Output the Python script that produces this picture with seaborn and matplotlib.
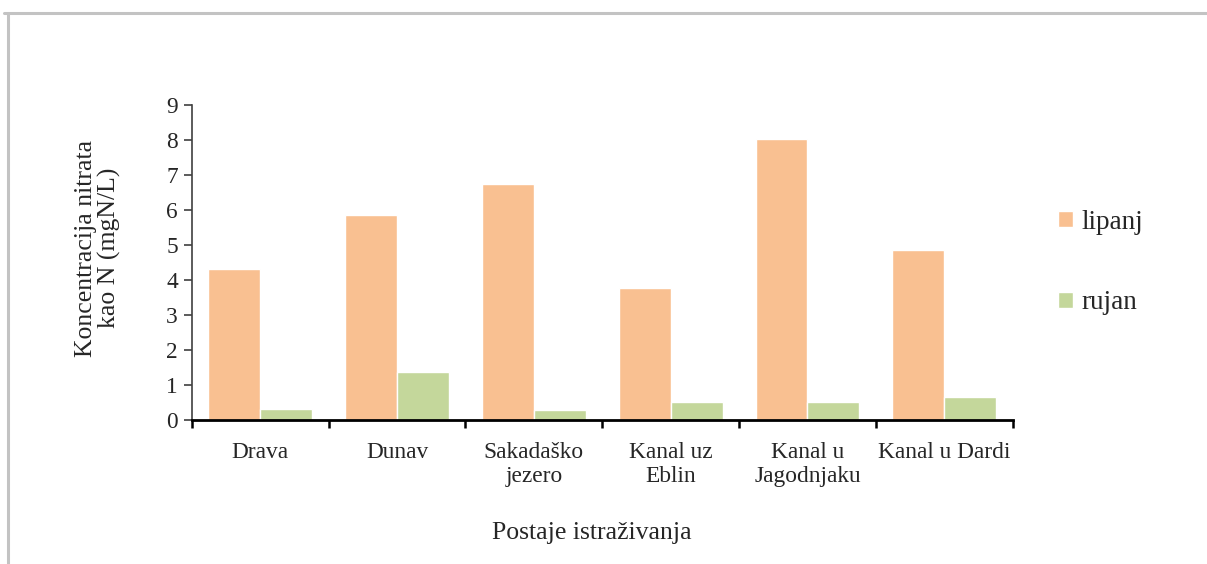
import matplotlib
matplotlib.use("Agg")
import matplotlib.pyplot as plt
from matplotlib.lines import Line2D
import numpy as np
import pandas as pd
import seaborn as sns

postaje = ["Drava", "Dunav", "Sakadaško\njezero", "Kanal uz\nEblin", "Kanal u\nJagodnjaku", "Kanal u Dardi"]
lipanj = [4.31, 5.86, 6.75, 3.78, 8.02, 4.86]
rujan = [0.31, 1.37, 0.29, 0.51, 0.51, 0.66]
mjeseci = ["lipanj", "rujan"]
boje = ["#F9C091", "#C4D79B"]

df = pd.DataFrame({
    "postaja": postaje * 2,
    "mjesec": ["lipanj"] * len(postaje) + ["rujan"] * len(postaje),
    "vrijednost": lipanj + rujan,
})

sns.set_theme(style="white")
plt.rcParams["font.family"] = ["Liberation Serif", "DejaVu Serif"]
fs_tick = 16.8
fs_lab = 18.5

fig = plt.figure(figsize=(12.07, 5.64), dpi=100)
ax = fig.add_axes([0.159, 0.2553, 0.68, 0.5585])

sns.barplot(data=df, x="postaja", y="vrijednost", hue="mjesec", hue_order=mjeseci,
            palette=boje, width=0.76, edgecolor="white", linewidth=1.0,
            saturation=1, ax=ax)

ax.set_xlim(-0.5, len(postaje) - 0.5)
ax.set_ylim(0, 9)
ax.set_yticks(range(0, 10))
ax.tick_params(axis="y", labelsize=fs_tick, length=6, width=1.2, color="#404040",
               left=True, pad=4)
ax.set_xticks(np.arange(-0.5, len(postaje)), minor=True)
ax.tick_params(axis="x", which="minor", length=6, width=1.8, color="black", bottom=True)
ax.tick_params(axis="x", which="major", length=0, labelsize=fs_tick, pad=16)
for lbl in ax.get_xticklabels():
    lbl.set_linespacing(1.18)

for s in ["top", "right"]:
    ax.spines[s].set_visible(False)
ax.spines["left"].set_color("#404040")
ax.spines["left"].set_linewidth(1.2)
ax.spines["bottom"].set_color("black")
ax.spines["bottom"].set_linewidth(2.0)

ax.set_xlabel("")
ax.set_ylabel("")
fig.text(0.49, 0.055, "Postaje istraživanja", ha="center", va="center", fontsize=fs_lab)
fig.text(0.081, 0.56, "Koncentracija nitrata\nkao N (mgN/L)", ha="center", va="center",
         rotation=90, fontsize=fs_lab, linespacing=1.08)

handles, labels = ax.get_legend_handles_labels()
ax.legend(handles, labels, loc="center left", bbox_to_anchor=(1.026, 0.5), frameon=False,
          fontsize=19.5, handlelength=0.55, handleheight=0.55, handletextpad=0.3,
          labelspacing=2.05)

# gray frame lines (top and left) as in the original screenshot
fig.add_artist(Line2D([0.0066, 0.0066], [0.0, 0.977], transform=fig.transFigure,
                      color="#c3c3c3", linewidth=2.2))
fig.add_artist(Line2D([0.003, 1.0], [0.977, 0.977], transform=fig.transFigure,
                      color="#c3c3c3", linewidth=2.2))

fig.savefig("out.png", dpi=100, facecolor="white")
